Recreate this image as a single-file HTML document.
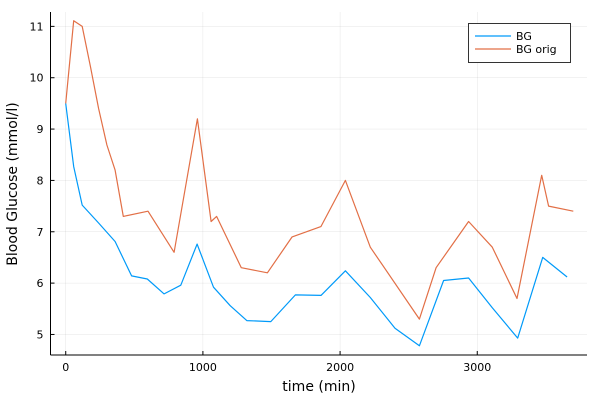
<!DOCTYPE html>
<html><head><meta charset="utf-8"><style>
html,body{margin:0;padding:0;background:#fff;}
svg{display:block;font-family:"DejaVu Sans","Liberation Sans",sans-serif;}
</style></head><body>
<svg id="chart" width="600" height="400" viewBox="0 0 600 400">
<rect x="0" y="0" width="600" height="400" fill="#fff"/>
<g id="grid"></g>
<g id="series"></g>
<g id="axes"></g>
<text x="319" y="391" font-size="14" text-anchor="middle" fill="#000">time (min)</text>
<text transform="translate(17,184) rotate(-90)" font-size="14" text-anchor="middle" fill="#000">Blood Glucose (mmol/l)</text>
<g>
<rect x="468.5" y="23.5" width="102" height="39" fill="#fff" stroke="#333" stroke-width="1"/>
<line x1="475" y1="36" x2="511" y2="36" stroke="#009af9" stroke-width="1.2"/>
<text x="516" y="40" font-size="11" fill="#000">BG</text>
<line x1="475" y1="49" x2="511" y2="49" stroke="#e26f46" stroke-width="1.2"/>
<text x="516" y="53" font-size="11" fill="#000">BG orig</text>
</g>
</svg>
<script>
const bgTimes=[0,58,120,240,360,480,595,717,839,958,1077,1199,1320,1495,1674,1861,2039,2220,2400,2578,2755,2937,3110,3295,3477,3655];
const bgValues=[9.5,8.27,7.52,7.17,6.81,6.14,6.08,5.79,5.96,6.76,5.92,5.56,5.27,5.25,5.77,5.76,6.24,5.72,5.12,4.78,6.05,6.10,5.52,4.93,6.50,6.12];
const origTimes=[0,58,120,180,240,300,360,420,600,790,960,1060,1100,1280,1470,1650,1860,2039,2220,2578,2700,2937,3110,3290,3470,3520,3700];
const origValues=[9.5,11.11,11.0,10.22,9.4,8.69,8.2,7.3,7.4,6.6,9.2,7.2,7.3,6.3,6.2,6.9,7.1,8.0,6.7,5.3,6.3,7.2,6.7,5.7,8.1,7.5,7.4];
const xTicks=[0,1000,2000,3000];
const yTicks=[5,6,7,8,9,10,11];
const L=50.5,R=587,T=12,B=355;
const X0=-111,X1=3800,Y0=4.6,Y1=11.28;
const sx=t=>L+(t-X0)/(X1-X0)*(R-L);
const sy=v=>B-(v-Y0)/(Y1-Y0)*(B-T);
const NS="http://www.w3.org/2000/svg";
const grid=document.getElementById('grid'),axes=document.getElementById('axes'),series=document.getElementById('series');
function mk(tag,attrs,parent){const e=document.createElementNS(NS,tag);for(const k in attrs)e.setAttribute(k,attrs[k]);parent.appendChild(e);return e;}
xTicks.forEach(t=>{
  const x=sx(t);
  const g=mk('line',{x1:x,y1:T,x2:x,y2:B,stroke:'#000','stroke-opacity':0.1,'stroke-width':0.5},grid);
  
  
  const tk=mk('line',{x1:x,y1:B,x2:x,y2:B-4,stroke:'#000','stroke-width':1},axes);
  
  
  const lb=mk('text',{x:x,y:B+16,'font-size':11,'text-anchor':'middle',fill:'#000'},axes);
  lb.textContent=t;
  
  
});
yTicks.forEach(v=>{
  const y=sy(v);
  const g=mk('line',{x1:L,y1:y,x2:R,y2:y,stroke:'#000','stroke-opacity':0.1,'stroke-width':0.5},grid);
  
  
  const tk=mk('line',{x1:L,y1:y,x2:L+4,y2:y,stroke:'#000','stroke-width':1},axes);
  
  
  const lb=mk('text',{x:L-7,y:y+4,'font-size':11,'text-anchor':'end',fill:'#000'},axes);
  lb.textContent=v;
  
  
});
const xa=mk('line',{x1:L,y1:B,x2:R,y2:B,stroke:'#000','stroke-width':1},axes);


const ya=mk('line',{x1:L,y1:T,x2:L,y2:B,stroke:'#000','stroke-width':1},axes);


function line(ts,vs){return ts.map((t,i)=>sx(t).toFixed(1)+','+sy(vs[i]).toFixed(1)).join(' ');}
const p1=mk('polyline',{points:line(bgTimes,bgValues),fill:'none',stroke:'#009af9','stroke-width':1.2,'stroke-linejoin':'round'},series);


const p2=mk('polyline',{points:line(origTimes,origValues),fill:'none',stroke:'#e26f46','stroke-width':1.2,'stroke-linejoin':'round'},series);


</script>
</body></html>
